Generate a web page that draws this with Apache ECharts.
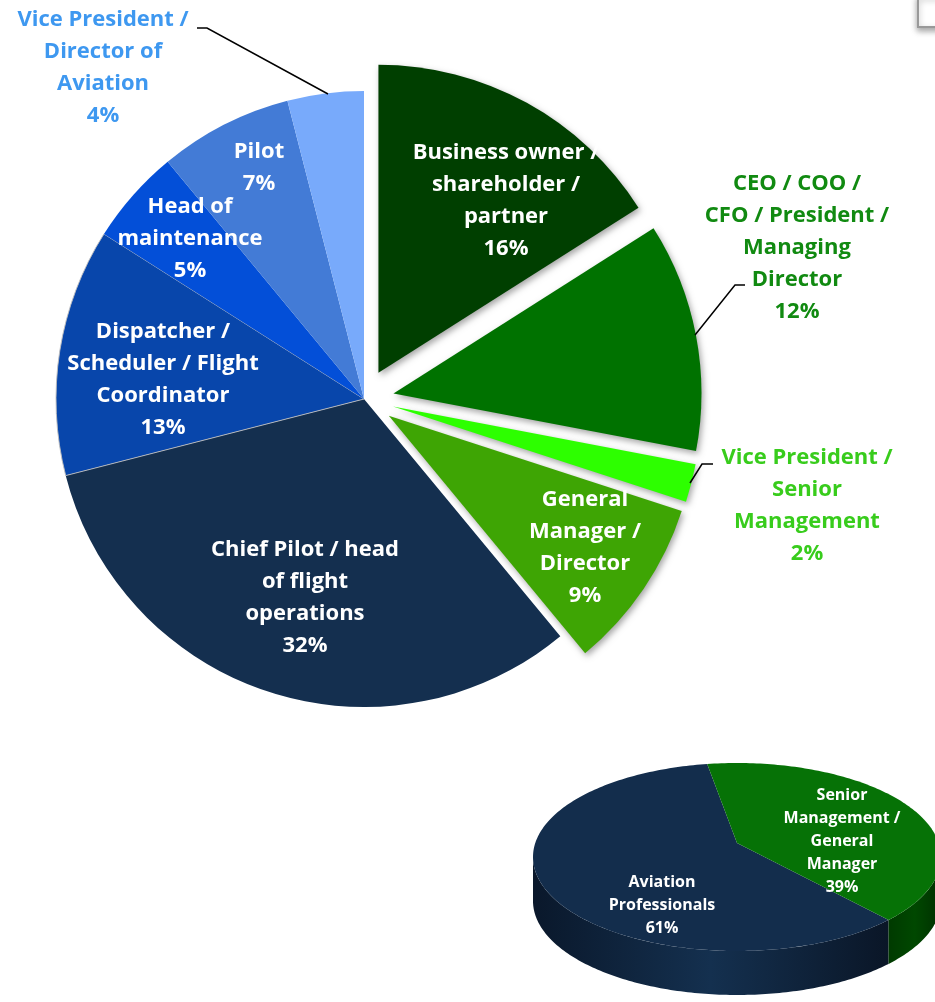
<!DOCTYPE html>
<html>
<head>
<meta charset="utf-8">
<script src="https://cdn.jsdelivr.net/npm/echarts@6/dist/echarts.min.js"></script>
<style>
  html, body { margin: 0; padding: 0; background: #fff; }
  #chart { width: 935px; height: 1002px; }
</style>
</head>
<body>
<div id="chart"></div>
<script>
  // respondent roles (big pie), clockwise from 12 o'clock
  var roles = [
    'Business owner / shareholder / partner',
    'CEO / COO / CFO / President / Managing Director',
    'Vice President / Senior Management',
    'General Manager / Director',
    'Chief Pilot / head of flight operations',
    'Dispatcher / Scheduler / Flight Coordinator',
    'Head of maintenance',
    'Pilot',
    'Vice President / Director of Aviation'
  ];
  var roleShares = [16, 12, 2, 9, 32, 13, 5, 7, 4];
  var roleLabels = [
    'Business owner /\nshareholder /\npartner',
    'CEO / COO /\nCFO / President /\nManaging\nDirector',
    'Vice President /\nSenior\nManagement',
    'General\nManager /\nDirector',
    'Chief Pilot / head\nof flight\noperations',
    'Dispatcher /\nScheduler / Flight\nCoordinator',
    'Head of\nmaintenance',
    'Pilot',
    'Vice President /\nDirector of\nAviation'
  ];
  // management slices are pulled out of the pie
  var roleExploded = [true, true, true, true, false, false, false, false, false];

  // grouped (small 3d pie)
  var groups = ['Aviation Professionals', 'Senior Management / General Manager'];
  var groupShares = [61, 39];
  var groupLabels = ['Aviation\nProfessionals', 'Senior\nManagement /\nGeneral\nManager'];

  // styles
  var roleColors = ['#003f00', '#007200', '#2dff00', '#3ea504', '#142f4f', '#0846ab', '#034fd8', '#437bd6', '#78aafb'];
  var outerLabelColors = { 1: '#118a11', 2: '#38cc1c', 8: '#3e98f0' };
  // label centres (text layout only)
  var labelPos = [[506, 201], [797, 248], [807, 506], [585, 548], [305, 598], [163, 380], [190, 239], [259, 168], [103, 68]];
  var leaderPts = {
    1: [[695, 335], [735, 285], [745, 285]],
    2: [[690, 483], [702, 464], [713, 464]],
    8: [[328, 94], [207, 28], [197, 28]]
  };
  var groupColors = ['#132d4c', '#067206'];
  var groupSide = [
    ['#0a182b', '#14304f', '#0a1627'],
    ['#003a00', '#004800', '#003000']
  ];
  var groupLabelPos = [[662, 905], [842, 841]];

  var FONT = '"Open Sans", sans-serif';
  var PIE_CENTER = [364, 399], PIE_R = 308;

  var pieData = roles.map(function (n, i) {
    var item = {
      name: n,
      value: roleShares[i],
      selected: roleExploded[i],
      itemStyle: { color: roleColors[i] }
    };
    if (roleExploded[i]) {
      item.itemStyle.shadowBlur = 6;
      item.itemStyle.shadowOffsetX = 2;
      item.itemStyle.shadowOffsetY = 3;
      item.itemStyle.shadowColor = 'rgba(0,0,0,0.35)';
    }
    if (i === 5) {
      item.itemStyle.borderColor = 'rgba(190,190,190,0.9)';
      item.itemStyle.borderWidth = 1;
    }
    return item;
  });

  // same slices, invisible, only to carry the labels (selected state would reset their layout)
  var labelData = roles.map(function (n, i) {
    var item = { name: n, value: roleShares[i] };
    if (outerLabelColors[i]) {
      item.label = { position: 'outside', color: outerLabelColors[i] };
      item.labelLine = { show: true, lineStyle: { color: '#000', width: 1.5 } };
    }
    return item;
  });

  // small 3d pie drawn as ellipse slices
  var CX = 737, CY = 857, RX = 204, RY = 94, DEPTH = 44, VY = 843;
  var GROUP_START = 132;
  function ept(t, dy) {
    var r = t * Math.PI / 180;
    return [CX + RX * Math.sin(r), CY - RY * Math.cos(r) + (dy || 0)];
  }
  function arc(a, b, dy) {
    var pts = [];
    var n = Math.max(2, Math.ceil(Math.abs(b - a)));
    for (var k = 0; k <= n; k++) pts.push(ept(a + (b - a) * k / n, dy));
    return pts;
  }
  function renderSlab(params, api) {
    var i = params.dataIndex;
    var total = groupShares.reduce(function (s, v) { return s + v; }, 0);
    var a0 = GROUP_START;
    for (var j = 0; j < i; j++) a0 += groupShares[j] / total * 360;
    var a1 = a0 + api.value(0) / total * 360;
    var children = [];
    // front wall (visible between 90 and 270 deg)
    [0, 360].forEach(function (off) {
      var s = Math.max(a0, 90 + off), e = Math.min(a1, 270 + off);
      if (e > s) {
        var top = arc(s, e, 0);
        var bot = arc(e, s, DEPTH);
        children.push({
          type: 'polygon',
          shape: { points: top.concat(bot) },
          style: {
            fill: new echarts.graphic.LinearGradient(0, 0, 1, 0, [
              { offset: 0, color: groupSide[i][0] },
              { offset: 0.5, color: groupSide[i][1] },
              { offset: 1, color: groupSide[i][2] }
            ])
          }
        });
      }
    });
    children.push({
      type: 'polygon',
      shape: { points: [[CX, VY]].concat(arc(a0, a1, 0)) },
      style: { fill: groupColors[i] }
    });
    children.push({
      type: 'text',
      style: {
        text: groupLabels[i] + '\n' + api.value(0) + '%',
        x: groupLabelPos[i][0],
        y: groupLabelPos[i][1],
        fill: '#fff',
        fontFamily: FONT,
        fontWeight: 'bold',
        fontSize: 16,
        lineHeight: 23,
        align: 'center',
        verticalAlign: 'middle'
      }
    });
    return { type: 'group', children: children };
  }

  var chart = echarts.init(document.getElementById('chart'));
  chart.setOption({
    animation: false,
    backgroundColor: '#fff',
    graphic: [{
      type: 'rect',
      shape: { x: 918, y: -4, width: 30, height: 31 },
      style: { fill: '#fff', stroke: '#999', lineWidth: 2, shadowBlur: 6, shadowOffsetY: 3, shadowColor: 'rgba(0,0,0,0.35)' }
    }],
    series: [
      {
        type: 'pie',
        center: PIE_CENTER,
        radius: PIE_R,
        startAngle: 90,
        clockwise: true,
        selectedMode: 'multiple',
        selectedOffset: 30,
        silent: true,
        data: pieData,
        itemStyle: { borderWidth: 0 },
        label: { show: false },
        labelLine: { show: false }
      },
      {
        type: 'pie',
        z: 5,
        center: PIE_CENTER,
        radius: PIE_R,
        startAngle: 90,
        clockwise: true,
        avoidLabelOverlap: false,
        silent: true,
        data: labelData,
        itemStyle: { color: 'rgba(0,0,0,0)', borderWidth: 0 },
        label: {
          show: true,
          position: 'inside',
          color: '#fff',
          fontFamily: FONT,
          fontWeight: 'bold',
          fontSize: 22,
          lineHeight: 32,
          formatter: function (p) {
            return roleLabels[p.dataIndex] + '\n' + Math.round(p.percent) + '%';
          }
        },
        labelLayout: function (params) {
          var i = params.dataIndex;
          var out = { x: labelPos[i][0], y: labelPos[i][1], align: 'center', verticalAlign: 'middle' };
          if (leaderPts[i]) out.labelLinePoints = leaderPts[i];
          return out;
        }
      },
      {
        type: 'custom',
        coordinateSystem: 'none',
        silent: true,
        data: groups.map(function (g, i) { return { name: g, value: groupShares[i] }; }),
        renderItem: renderSlab
      }
    ]
  });
</script>
</body>
</html>
